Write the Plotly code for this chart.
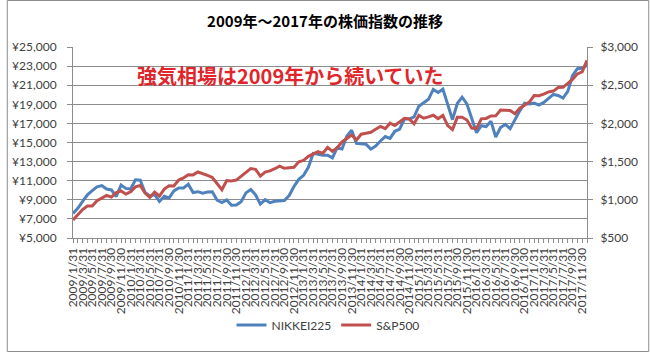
import plotly.graph_objects as go

# Category labels (month ends, 2009/1 .. 2017/12)
months = []
for yr in range(2009, 2018):
    for m, d in zip(range(1, 13), [31, 28, 31, 30, 31, 30, 31, 31, 30, 31, 30, 31]):
        if m == 2:
            d = 29 if yr % 4 == 0 else 28
        months.append(f"{yr}/{m}/{d}")

nikkei225 = [
    7568, 8110, 8828, 9523, 9958, 10357, 10493, 10133, 10035, 9346, 10546, 10198,
    10126, 11090, 11057, 9769, 9383, 9537, 8824, 9369, 9202, 9937, 10229, 10238,
    10624, 9755, 9850, 9694, 9816, 9833, 8955, 8700, 8988, 8435, 8455, 8803,
    9723, 10084, 9521, 8543, 9007, 8695, 8840, 8870, 8928, 9446, 10395, 11139,
    11559, 12398, 13861, 13775, 13677, 13668, 13389, 14456, 14328, 15662, 16291, 14915,
    14841, 14828, 14304, 14632, 15162, 15621, 15425, 16174, 16414, 17460, 17451, 17674,
    18798, 19207, 19520, 20563, 20236, 20585, 18890, 17388, 19083, 19747, 19034, 17518,
    16027, 16759, 16666, 17235, 15576, 16569, 16887, 16450, 17425, 18308, 19114, 19041,
    19119, 18909, 19197, 19651, 20033, 19925, 19646, 20356, 22012, 22725, 22765, 23098,
]
sp500 = [
    735, 798, 873, 919, 919, 987, 1021, 1057, 1036, 1096, 1115, 1074,
    1104, 1169, 1187, 1089, 1031, 1102, 1049, 1141, 1183, 1181, 1258, 1286,
    1327, 1326, 1364, 1345, 1321, 1292, 1219, 1131, 1253, 1247, 1258, 1312,
    1366, 1408, 1398, 1310, 1362, 1379, 1407, 1441, 1412, 1416, 1426, 1498,
    1515, 1569, 1598, 1631, 1606, 1686, 1633, 1682, 1757, 1806, 1848, 1783,
    1859, 1872, 1884, 1924, 1960, 1931, 2003, 1972, 2018, 2068, 2059, 1995,
    2105, 2068, 2086, 2107, 2063, 2104, 1972, 1920, 2079, 2080, 2044, 1940,
    1932, 2060, 2065, 2097, 2099, 2174, 2171, 2168, 2126, 2199, 2239, 2279,
    2364, 2363, 2384, 2412, 2423, 2470, 2472, 2519, 2575, 2648, 2674, 2824,
]

title_text = "2009年～2017年の株価指数の推移"
note_text = "強気相場は2009年から続いていた"
left_ticks = list(range(5000, 25001, 2000))
right_ticks = list(range(500, 3001, 500))
left_labels = [f"¥{v:,}" for v in left_ticks]
right_labels = [f"${v:,}" for v in right_ticks]

W, H = 650, 352
L, R, T, B = 67, 63, 47, 114
pw, ph = W - L - R, H - T - B

BLUE = "#4F81BD"
RED = "#C0504D"
GRID = "#8C8C8C"
FONT = "Lato"
CJK = "Noto Sans CJK JP"

fig = go.Figure()
fig.add_trace(go.Scatter(x=months, y=nikkei225, name="NIKKEI225", mode="lines",
                         line=dict(color=BLUE, width=3), yaxis="y"))
fig.add_trace(go.Scatter(x=months, y=sp500, name="S&P500", mode="lines",
                         line=dict(color=RED, width=3), yaxis="y2"))

ticktext = [lab if i % 2 == 0 else "" for i, lab in enumerate(months)]

fig.update_layout(
    width=W, height=H,
    margin=dict(l=L, r=R, t=T, b=B),
    paper_bgcolor="white", plot_bgcolor="white",
    font=dict(family=FONT, size=12, color="#404040"),
    title=dict(text="<b>" + title_text + "</b>", x=0.5, xanchor="center",
               y=1 - 22 / H, yanchor="middle",
               font=dict(family=CJK, size=15, color="#000000")),
    xaxis=dict(type="category", range=[0, len(months) - 1],
               tickmode="array", tickvals=months, ticktext=ticktext,
               tickangle=-90, ticks="outside", ticklen=4, tickcolor=GRID,
               showgrid=False, showline=True, linecolor=GRID, linewidth=1,
               tickfont=dict(family=FONT, size=12, color="#404040"),
               zeroline=False),
    yaxis=dict(range=[5000, 25000], tickmode="array", tickvals=left_ticks,
               ticktext=left_labels, showgrid=True, gridcolor=GRID, gridwidth=1,
               showline=True, linecolor=GRID, ticks="outside", ticklen=5,
               tickcolor=GRID, ticklabelstandoff=8, zeroline=False,
               tickfont=dict(family=FONT, size=12, color="#404040")),
    yaxis2=dict(range=[500, 3000], tickmode="array", tickvals=right_ticks,
                ticktext=right_labels, overlaying="y", side="right", showgrid=False,
                showline=True, linecolor=GRID, ticks="outside", ticklen=5,
                tickcolor=GRID, ticklabelstandoff=5, zeroline=False,
                tickfont=dict(family=FONT, size=12, color="#404040")),
    legend=dict(orientation="h", x=(325 - L) / pw, xanchor="center",
                y=(H - B - 325) / ph, yanchor="middle",
                font=dict(family=FONT, size=12, color="#404040"),
                bgcolor="rgba(0,0,0,0)", itemwidth=30),
    showlegend=True,
)

fig.add_annotation(text="<b>" + note_text + "</b>", xref="paper", yref="paper",
                   x=(287 - L) / pw, y=(H - B - 75) / ph, xanchor="center",
                   yanchor="middle", showarrow=False,
                   font=dict(family=CJK, size=20, color="#E0262B"))

# outer chart border
fig.add_shape(type="rect", xref="paper", yref="paper",
              x0=(0.5 - L) / pw, x1=(W - 0.5 - L) / pw,
              y0=(H - B - (H - 0.5)) / ph, y1=(H - B - 0.5) / ph,
              line=dict(color="#8C8C8C", width=1), fillcolor="rgba(0,0,0,0)",
              layer="below")

fig.write_html("out.html")
